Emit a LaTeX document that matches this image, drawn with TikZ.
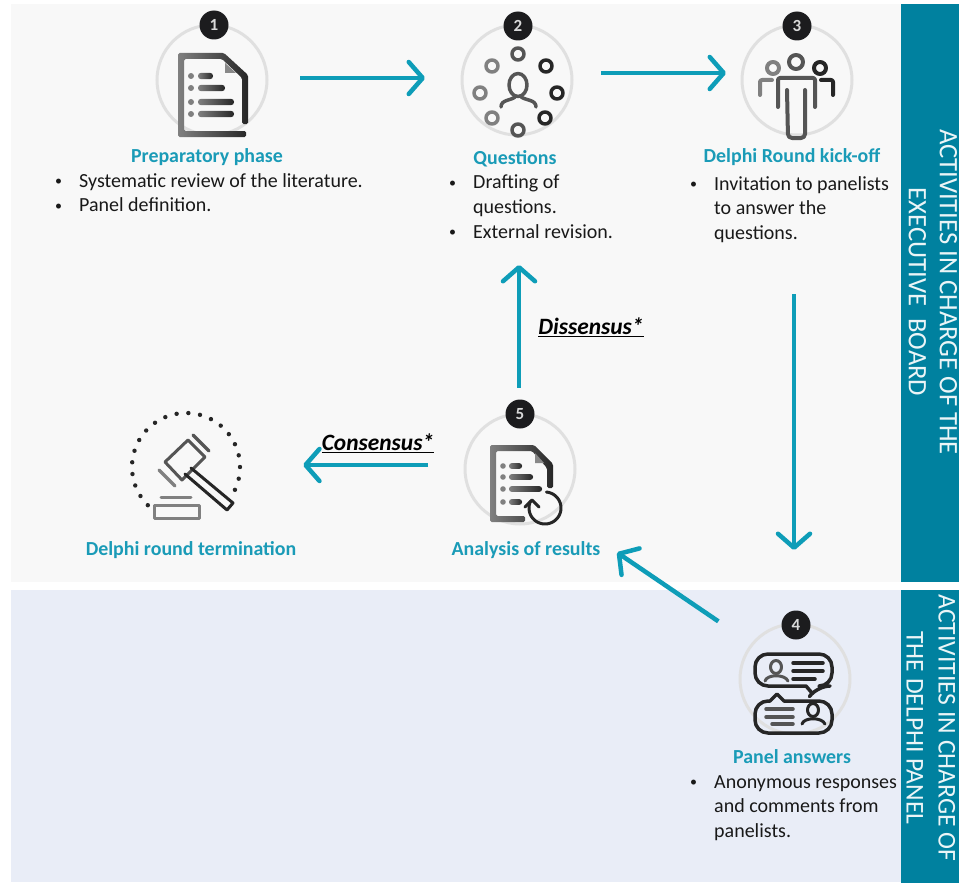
\documentclass[tikz,border=0pt]{standalone}
\usepackage{fontspec}
\setmainfont{Carlito}
\usetikzlibrary{arrows.meta}

\definecolor{flowteal}{HTML}{0E9DB8}
\definecolor{titleteal}{HTML}{1A9BB7}
\definecolor{barteal}{HTML}{00819F}
\definecolor{topgray}{HTML}{F8F8F8}
\definecolor{lowblue}{HTML}{E9EDF7}
\definecolor{ringgray}{HTML}{E0E0E0}
\definecolor{badgeblack}{HTML}{1C1C1E}
\definecolor{iconlight}{HTML}{808080}
\definecolor{iconmid}{HTML}{555555}
\definecolor{icondark}{HTML}{262626}

\newcommand{\bl}[1]{\makebox[20pt][l]{\hspace{-4pt}\raisebox{1.5pt}{\fontsize{14}{14}\selectfont •}}#1}
\newcommand{\cn}[1]{\hspace*{20pt}#1}

\tikzset{
    ring/.style={circle, draw=ringgray, line width=3pt, minimum size=110pt, inner sep=0pt, outer sep=0pt},
    badge/.style={circle, fill=badgeblack, text=white!85!black, minimum size=29pt, inner sep=0pt, outer sep=0pt, font=\fontsize{17}{17}\selectfont\bfseries},
    title/.style={text=titleteal, inner sep=0pt, font=\fontsize{19.9}{22}\selectfont\bfseries},
    bullets/.style={anchor=north west, align=left, inner sep=0pt, text=black!90, font=\fontsize{20}{24.6}\selectfont},
    vote/.style={inner sep=0pt, text=black, font=\fontsize{23.4}{26}\selectfont\bfseries\itshape},
    sidetext/.style={rotate=-90, align=center, text=white!92!barteal, inner sep=0pt},
    flow/.style={draw=flowteal, line width=4.5pt, -{Straight Barb[length=14pt, width=32pt, line width=4.5pt, round]}},
    stroke/.style={line width=#1, line cap=round, line join=round},
    stroke/.default=3pt,
    docshade/.style={left color=iconlight, right color=black!85}
}

\begin{document}
\begin{tikzpicture}[x=1pt, y=-1pt]
    \useasboundingbox (0, 0) rectangle (959, 883);

    \fill[topgray] (11, 4) rectangle (901, 582);
    \fill[lowblue] (11, 590) rectangle (901, 882);
    \fill[barteal] (901, 4) rectangle (959, 582);
    \fill[barteal] (901, 590) rectangle (959, 883);

    \node[ring] at (212, 80) (ring1) {};
    \node[ring] at (517, 80) (ring2) {};
    \node[ring] at (797, 80) (ring3) {};
    \node[ring] at (795, 679) (ring4) {};
    \node[ring] at (520, 469) (ring5) {};
    \node[circle, minimum size=110pt, inner sep=0pt] at (186, 467) (gavel) {};

    \node[badge] at (214, 25) (badge1) {1};
    \node[badge] at (518, 26) (badge2) {2};
    \node[badge] at (797, 26) (badge3) {3};
    \node[badge] at (796, 625) (badge4) {4};
    \node[badge] at (520, 414) (badge5) {5};

    \node[title] at (207, 157) (title1) {Preparatory phase};
    \node[title] at (515, 159) (title2) {Questions};
    \node[title] at (792, 157) (title3) {Delphi Round kick-off};
    \node[title] at (792, 757) (title4) {Panel answers};
    \node[title] at (526, 550) (title5) {Analysis of results};
    \node[title] at (191, 550) (title6) {Delphi round termination};

    \node[bullets] at (59, 173) (list1) {\bl{Systematic review of the literature.}\\\bl{Panel definition.}};
    \node[bullets] at (453, 175) (list2) {\bl{Drafting of}\\\cn{questions.}\\\bl{External revision.}};
    \node[bullets] at (694, 176) (list3) {\bl{Invitation to panelists}\\\cn{to answer the}\\\cn{questions.}};
    \node[bullets] at (694, 775) (list4) {\bl{Anonymous responses}\\\cn{and comments from}\\\cn{panelists.}};

    \node[vote] at (591, 327) (dissensus) {\underline{Dissensus*}};
    \node[vote] at (378, 443) (consensus) {\underline{Consensus*}};

    \node[sidetext, font=\fontsize{26.6}{31}\selectfont] at (933, 292) (board) {ACTIVITIES IN CHARGE OF THE\\EXECUTIVE~~BOARD};
    \node[sidetext, font=\fontsize{25.6}{32}\selectfont] at (931, 728) (panel) {ACTIVITIES IN CHARGE OF\\THE DELPHI PANEL};

    \draw[flow, shorten <=33pt, shorten >=37pt] ([yshift=2pt]ring1.east) -- ([yshift=2pt]ring2.west);
    \draw[flow, shorten <=29pt, shorten >=16pt] ([yshift=7pt]ring2.east) -- ([yshift=7pt]ring3.west);
    \draw[flow, shorten <=159pt, shorten >=74pt] ([xshift=-3pt]ring3.south) -- ([xshift=-1pt]ring4.north);
    \draw[flow, shorten <=41pt, shorten >=20pt] (ring4.141) -- (title5.north east);
    \draw[flow, shorten <=12pt, shorten >=130pt] ([xshift=-1pt]badge5.north) -- ([xshift=2pt]ring2.south);
    \draw[flow, shorten <=37pt, shorten >=62pt] ([yshift=4pt]ring5.west) -- ([yshift=2pt]gavel.east);

    \shade[docshade, rounded corners=1.5pt] (178, 53) -- (224, 53) -- (248, 75) -- (248, 124) -- (242, 124) -- (242, 78) -- (222, 59) -- (184, 59) -- (184, 131) -- (246, 131) -- (246, 137) -- (178, 137) -- cycle;
    \fill[iconmid!70!white] (225, 63) -- (225, 73) -- (236, 73) -- cycle;
    \foreach \rowy/\rowend in {76/213, 88/225, 102/234, 114/234} {
        \fill[iconlight] (191, \rowy) circle (3pt);
        \shade[docshade, rounded corners=3pt] (198, \rowy-3.2) rectangle (\rowend, \rowy+3.2);
    }

    \foreach \px/\py/\shadecol in {518/54/iconmid, 546/66/icondark, 557/93/icondark, 545/118/icondark, 518/130/iconmid, 492/118/iconlight, 480/93/iconlight, 492/66/iconlight} {
        \draw[\shadecol, stroke=3.5pt] (\px, \py) circle (6pt);
    }
    \draw[iconmid, stroke=3.5pt] (518, 85) ellipse (9pt and 11.5pt);
    \draw[iconmid, stroke=3.5pt] (501, 107) .. controls (501, 99) and (512, 101) .. (516, 96);
    \draw[iconmid, stroke=3.5pt] (536, 107) .. controls (536, 99) and (525, 101) .. (520, 96);

    \draw[iconmid, stroke=4pt] (796, 62) circle (7pt);
    \draw[iconlight, stroke=4pt] (773, 68) circle (6pt);
    \draw[icondark, stroke=4pt] (820, 68) circle (6pt);
    \draw[iconmid, stroke=4pt, rounded corners=2pt] (778, 107) -- (778, 78) -- (815, 78) -- (815, 107);
    \draw[iconmid, stroke=4pt, rounded corners=4pt] (787, 90) -- (788, 138) -- (805, 138) -- (805, 90);
    \draw[iconlight, stroke=4pt, rounded corners=2pt] (760, 95) -- (760, 80) -- (772, 80);
    \draw[icondark, stroke=4pt, rounded corners=2pt] (833, 95) -- (833, 80) -- (821, 80);

    \foreach \a in {-25, -12.5, ..., 225} {
        \fill[icondark] ({186 + 54*cos(\a)}, {467 - 54*sin(\a)}) circle (2.2pt);
    }
    \draw[iconmid, stroke=3pt] (188, 440) -- (205, 457) -- (182, 480) -- (165, 462) -- cycle;
    \draw[iconmid, stroke=3.5pt] (193, 435) -- (209, 451);
    \draw[iconlight, stroke=3.5pt] (159, 470) -- (175, 486);
    \draw[icondark, stroke=3pt] (191, 468) -- (233, 503) -- (227, 510) -- (185, 474);
    \draw[iconlight, stroke=3pt] (161, 497) -- (191, 497);
    \draw[iconlight, stroke=3pt] (154, 505) rectangle (199, 518);

    \draw[icondark, stroke=3.5pt, rounded corners=13pt] (755, 654) -- (832, 654) -- (832, 686) -- (817, 686) [sharp corners] -- (812, 693) -- (806, 686) [rounded corners=13pt] -- (755, 686) -- cycle;
    \draw[icondark, stroke=3.5pt, rounded corners=13pt] (755, 701) [sharp corners] -- (770, 701) -- (777, 694) -- (784, 701) [rounded corners=13pt] -- (832, 701) -- (832, 733) -- (755, 733) -- cycle;
    \draw[iconmid, stroke=3pt] (776, 667) ellipse (5.5pt and 6.5pt);
    \draw[iconmid, stroke=3pt] (765, 681) .. controls (767, 674) and (785, 674) .. (788, 681);
    \draw[icondark, stroke=3pt] (813, 710) ellipse (5.5pt and 6.5pt);
    \draw[icondark, stroke=3pt] (802, 724) .. controls (804, 717) and (822, 717) .. (825, 724);
    \foreach \liney/\linea/\lineb in {663/793/823, 671/793/823, 679/793/815} {
        \draw[icondark, stroke=3.5pt] (\linea, \liney) -- (\lineb, \liney);
    }
    \foreach \liney/\linea/\lineb in {709/766/793, 717/766/793, 724/772/793} {
        \draw[iconmid, stroke=3.5pt] (\linea, \liney) -- (\lineb, \liney);
    }

    \shade[docshade, rounded corners=1.5pt] (490, 445) -- (534, 445) -- (553, 464) -- (553, 488) -- (547, 488) -- (547, 468) -- (532, 451) -- (496, 451) -- (496, 516) -- (525, 516) -- (525, 522) -- (490, 522) -- cycle;
    \fill[iconmid!70!white] (535, 453) -- (535, 463) -- (544, 463) -- cycle;
    \foreach \rowy/\rowend in {466/522, 477/533, 489/542, 502/522} {
        \fill[iconlight] (503, \rowy) circle (2.8pt);
        \shade[docshade, rounded corners=2.5pt] (509, \rowy-2.8) rectangle (\rowend, \rowy+2.8);
    }
    \draw[icondark, stroke=3pt] plot[domain=85:-205, samples=40, smooth] ({545 + 16*cos(\x)}, {508 - 16*sin(\x)});
    \draw[icondark, stroke=3pt] (525, 507) -- (532, 500) -- (539, 507);
\end{tikzpicture}
\end{document}
